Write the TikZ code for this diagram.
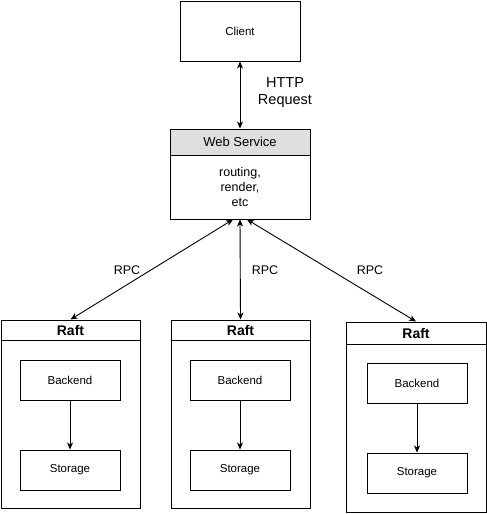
\documentclass[tikz,border=0pt]{standalone}
\usepackage{fontspec}
\usetikzlibrary{arrows.meta}
\setmainfont{Liberation Sans}
\newcommand{\fsz}[2]{\fontsize{#1}{#2}\selectfont}
\begin{document}
\begin{tikzpicture}[>={Stealth[length=7pt,width=6pt,inset=2pt]}, x=1pt, y=-1pt,
    box/.style={draw, line width=1pt, rectangle, minimum width=100pt, minimum height=40pt, inner sep=0pt, align=center, font=\fsz{11.5}{13}},
    rafthead/.style={draw, line width=1pt, rectangle, minimum width=139pt, minimum height=20pt, inner sep=0pt, font=\fsz{14}{16}\bfseries},
    raftbody/.style={draw, line width=1pt, rectangle, minimum width=139pt, minimum height=168pt, inner sep=0pt},
    link/.style={line width=0.9pt, <->}]
    \useasboundingbox (0,0) rectangle (487,514);

    % client and web service
    \node[box, minimum width=120pt, minimum height=60pt] (client) at (240,31) {Client};
    \node[draw, line width=1pt, rectangle, fill=gray!25, minimum width=140pt, minimum height=26pt, inner sep=0pt, font=\fsz{13}{15}]
        (web) at (240,142) {Web Service};
    \node[draw, line width=1pt, rectangle, minimum width=140pt, minimum height=64pt, inner sep=0pt, align=center, font=\fsz{12.5}{15}]
        (webbody) at (240,187) {routing,\\render,\\etc};

    \draw[link] (client.south) -- (web.north);
    \node[align=center, font=\fsz{14.5}{17}] (http) at (285,93) {HTTP\\Request};

    % raft groups
    \node[rafthead] (raftA) at (70.5,330) {Raft};
    \node[raftbody] (raftAbody) at (70.5,424) {};
    \node[rafthead] (raftB) at (240.5,330) {Raft};
    \node[raftbody] (raftBbody) at (240.5,424) {};
    \node[rafthead, minimum width=140pt, minimum height=22pt] (raftC) at (416,333) {Raft};
    \node[raftbody, minimum width=140pt] (raftCbody) at (416,428) {};

    \node[box] (backA) at (70,380) {Backend};
    \node[box] (storA) at (70,470) {Storage};
    \node[box] (backB) at (240,380) {Backend};
    \node[box] (storB) at (240,470) {Storage};
    \node[box] (backC) at (417,383) {Backend};
    \node[box] (storC) at (417,473) {Storage};

    \foreach \g in {A,B,C}
        \draw[line width=0.9pt, ->] (back\g.south) -- (stor\g.north);

    % rpc links
    \draw[link] ([xshift=-7pt]webbody.south) -- (raftA.north);
    \draw[link] (webbody.south) -- (raftB.north);
    \draw[link] ([xshift=7pt]webbody.south) -- (raftC.north);
    \node[font=\fsz{12.5}{14}] (rpcA) at (127,270) {RPC};
    \node[font=\fsz{12.5}{14}] (rpcB) at (265,270) {RPC};
    \node[font=\fsz{12.5}{14}] (rpcC) at (370,270) {RPC};
\end{tikzpicture}
\end{document}
